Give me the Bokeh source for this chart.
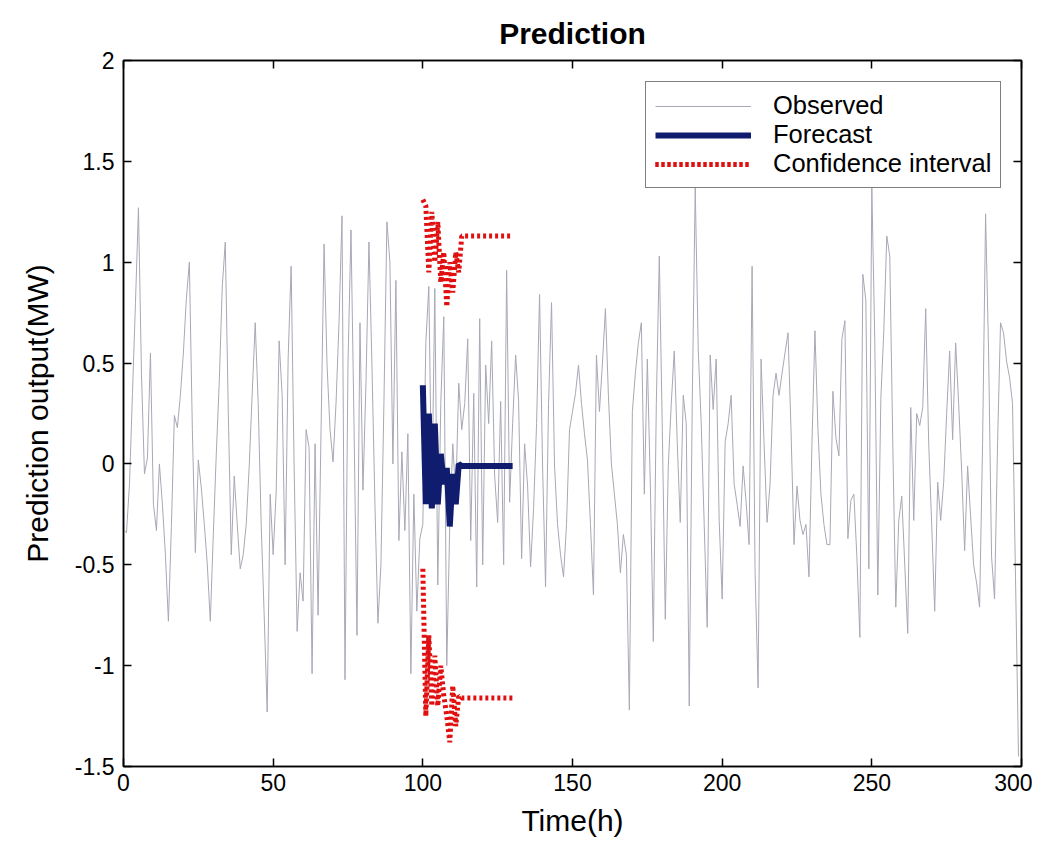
from bokeh.plotting import figure
from bokeh.models import (LinearAxis, FixedTicker, CustomJSTickFormatter, Legend,
                          LegendItem, Range1d)
from bokeh.embed import file_html
from bokeh.resources import INLINE

# ---------------- data ----------------
observed = [
    -0.33, -0.34, -0.10, 0.35, 0.80, 1.27, 0.45, -0.05, 0.03, 0.55,
    -0.20, -0.33, 0.00, -0.20, -0.45, -0.78, -0.31, 0.24, 0.18, 0.34,
    0.55, 0.82, 1.00, 0.17, -0.44, 0.02, -0.12, -0.30, -0.50, -0.78,
    -0.35, 0.05, 0.41, 0.88, 1.10, 0.26, -0.45, -0.06, -0.30, -0.52,
    -0.45, -0.30, -0.01, 0.35, 0.70, 0.30, -0.30, -0.75, -1.23, -0.15,
    -0.45, -0.14, 0.61, 0.34, -0.50, 0.52, 0.98, -0.01, -0.83, -0.54,
    -0.68, 0.17, 0.08, -1.04, 0.10, -0.75, 0.17, 1.09, 0.49, 0.17,
    0.01, 0.30, 0.70, 1.23, -1.07, 0.50, 1.16, 0.20, -0.85, 0.70,
    -0.13, 0.40, 1.10, 0.49, -0.20, -0.79, -0.50, 0.30, 1.20, 1.00,
    0.00, 0.91, -0.38, 0.06, -0.33, 0.15, -1.04, -0.15, -0.73, -0.37,
    -0.30, 0.60, 0.88, -0.20, 0.87, -0.60, 0.30, 0.73, -1.00, -0.30,
    0.10, -0.16, 0.40, 0.17, 0.30, 0.62, -0.38, 0.35, -0.61, 0.72,
    -0.50, 0.49, 0.20, 0.61, -0.06, -0.29, 0.31, -0.50, 0.96, -0.19,
    0.20, 0.54, 0.31, -0.47, 0.10, -0.11, -0.51, -0.22, 0.20, 0.84,
    -0.01, -0.61, 0.30, 0.80, -0.01, -0.30, -0.45, -0.56, -0.30, 0.17,
    0.26, 0.35, 0.49, 0.30, 0.15, 0.02, -0.30, -0.65, 0.54, 0.26,
    0.50, 0.77, 0.34, 0.00, -0.15, -0.30, -0.54, -0.35, -0.45, -1.22,
    0.26, 0.45, 0.60, 0.70, -0.15, 0.52, -0.10, -0.88, 0.30, 1.03,
    0.17, -0.77, -0.01, 0.30, 0.56, 0.10, -0.29, 0.34, 0.20, -1.20,
    0.30, 1.37, 0.57, 0.20, -0.30, -0.81, 0.54, 0.27, 0.52, -0.28,
    -0.67, 0.11, 0.20, 0.34, -0.10, -0.20, -0.31, -0.01, -0.19, -0.40,
    0.98, -0.54, -1.11, 0.52, 0.10, -0.29, -0.10, 0.34, 0.45, 0.34,
    0.45, 0.55, 0.65, 0.17, -0.40, -0.11, -0.28, -0.35, -0.30, -0.56,
    0.10, 0.66, 0.17, -0.15, -0.30, -0.40, -0.40, 0.36, 0.13, 0.04,
    0.62, 0.71, -0.37, -0.18, -0.15, -0.46, -0.86, 0.94, 0.81, -0.52,
    1.37, 0.60, -0.65, 0.32, 0.66, 1.13, 1.03, 0.10, -0.71, -0.28,
    -0.16, -0.50, -0.84, 0.28, -0.28, 0.25, 0.19, 0.28, 0.77, 0.10,
    -0.30, -0.73, -0.09, -0.28, -0.09, 0.25, 0.56, 0.12, 0.60, 0.30,
    -0.03, -0.43, -0.01, -0.26, -0.50, -0.59, -0.71, 0.10, 1.24, 0.56,
    -0.46, -0.67, 0.10, 0.70, 0.65, 0.51, 0.43, 0.30, -0.56, -1.45,
]
hours = list(range(len(observed)))

forecast_hours = list(range(100, 131))
forecast = [
    0.39, -0.20, 0.25, -0.22, 0.20, -0.20, 0.05, -0.10, -0.02, -0.31,
    -0.05, -0.20, 0.00, -0.01, -0.01, -0.01, -0.01, -0.01, -0.01, -0.01,
    -0.01, -0.01, -0.01, -0.01, -0.01, -0.01, -0.01, -0.01, -0.01, -0.01,
    -0.01,
]
ci_upper = [
    1.31, 1.28, 0.95, 1.25, 1.00, 1.20, 0.90, 1.05, 0.78, 1.00,
    0.85, 1.05, 0.95, 1.13, 1.13, 1.13, 1.13, 1.13, 1.13, 1.13,
    1.13, 1.13, 1.13, 1.13, 1.13, 1.13, 1.13, 1.13, 1.13, 1.13,
    1.13,
]
ci_lower = [
    -0.52, -1.25, -0.85, -1.20, -0.95, -1.20, -1.00, -1.15, -1.25, -1.38,
    -1.10, -1.30, -1.15, -1.16, -1.16, -1.16, -1.16, -1.16, -1.16, -1.16,
    -1.16, -1.16, -1.16, -1.16, -1.16, -1.16, -1.16, -1.16, -1.16, -1.16,
    -1.16,
]

x_ticks = [0, 50, 100, 150, 200, 250, 300]
y_ticks = [-1.5, -1, -0.5, 0, 0.5, 1, 1.5, 2]

FONT = "Liberation Sans"

# ---------------- figure ----------------
p = figure(width=1032, height=839, output_backend="svg", toolbar_location=None,
           x_range=Range1d(0, 300), y_range=Range1d(-1.5, 2),
           min_border_left=123, min_border_right=11,
           min_border_top=60, min_border_bottom=60,
           background_fill_color="white", border_fill_color="white")
p.grid.visible = False
p.outline_line_color = "black"
p.outline_line_width = 1.5

p.title.text = "Prediction"
p.title.align = "center"
p.title.text_font = FONT
p.title.text_font_size = "30px"
p.title.text_font_style = "bold"
p.title.text_color = "black"
p.title.standoff = 21

fmt = CustomJSTickFormatter(code="return String(tick);")

def style_axis(ax, ticks, show_labels=True):
    ax.ticker = FixedTicker(ticks=ticks)
    ax.axis_line_color = "black"
    ax.axis_line_width = 1.5
    ax.major_tick_line_color = "black"
    ax.major_tick_line_width = 1.5
    ax.major_tick_in = 8
    ax.major_tick_out = 0
    ax.minor_tick_line_color = None
    ax.major_label_text_font = FONT
    if show_labels:
        ax.formatter = fmt
        ax.major_label_text_color = "black"
        ax.major_label_text_font_size = "23px"
        ax.major_label_standoff = 9
    else:
        ax.formatter = CustomJSTickFormatter(code="return '';")
        ax.major_label_text_color = None
        ax.major_label_text_font_size = "1px"
        ax.major_label_standoff = 0

style_axis(p.xaxis[0], x_ticks)
style_axis(p.yaxis[0], y_ticks)
p.xaxis[0].major_label_standoff = 7
p.xaxis[0].axis_label = "Time(h)"
p.yaxis[0].axis_label = "Prediction output(MW)"
for ax in (p.xaxis[0], p.yaxis[0]):
    ax.axis_label_text_font = FONT
    ax.axis_label_text_font_size = "30px"
    ax.axis_label_text_font_style = "normal"
    ax.axis_label_text_color = "black"
p.xaxis[0].axis_label_standoff = 10
p.yaxis[0].axis_label_standoff = 18

top_ax = LinearAxis()
style_axis(top_ax, x_ticks, show_labels=False)
p.add_layout(top_ax, "above")
right_ax = LinearAxis()
style_axis(right_ax, y_ticks, show_labels=False)
p.add_layout(right_ax, "right")

# ---------------- glyphs ----------------
r_obs = p.line(hours, observed, line_color="#a8a8b6", line_width=1)
r_fc = p.line(forecast_hours, forecast, line_color="#101c6e", line_width=6)
r_up = p.line(forecast_hours, ci_upper, line_color="#e01010", line_width=5,
              line_dash="3 3")
r_lo = p.line(forecast_hours, ci_lower, line_color="#e01010", line_width=5,
              line_dash="3 3")

legend = Legend(items=[
    LegendItem(label="Observed", renderers=[r_obs]),
    LegendItem(label="Forecast", renderers=[r_fc]),
    LegendItem(label="Confidence interval", renderers=[r_up, r_lo]),
], location=(522, 578))
legend.border_line_color = "black"
legend.border_line_width = 1.5
legend.background_fill_color = "white"
legend.background_fill_alpha = 1
legend.label_text_font = FONT
legend.label_text_font_size = "25.5px"
legend.label_text_color = "black"
legend.glyph_width = 96
legend.glyph_height = 26
legend.label_height = 26
legend.label_standoff = 22
legend.padding = 9
legend.spacing = 0
legend.margin = 0
p.add_layout(legend)

open("out.html", "w").write(file_html(p, INLINE))
